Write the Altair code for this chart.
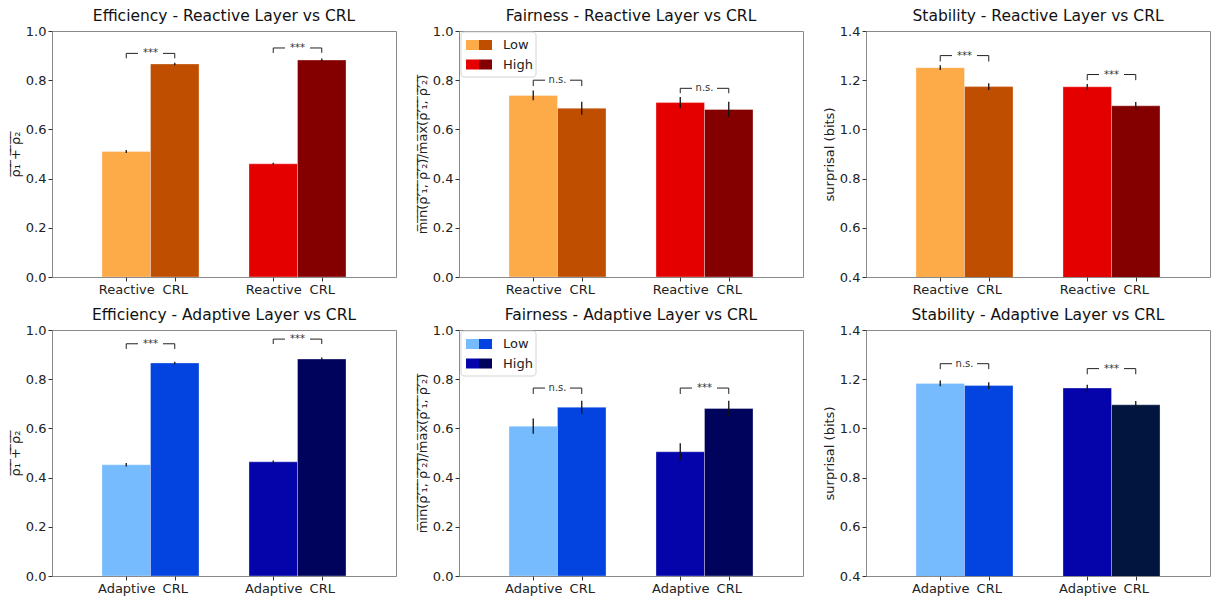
import altair as alt
import pandas as pd

conditions = ["Low", "High"]

# Efficiency (bar heights and error half-widths)
eff_reactive = [0.510, 0.460]
eff_reactive_err = [0.006, 0.004]
eff_adaptive = [0.452, 0.464]
eff_adaptive_err = [0.007, 0.006]
eff_crl = [0.866, 0.882]
eff_crl_err = [0.005, 0.006]

# Fairness
fair_reactive = [0.738, 0.709]
fair_reactive_err = [0.020, 0.023]
fair_adaptive = [0.609, 0.505]
fair_adaptive_err = [0.031, 0.035]
fair_crl = [0.686, 0.681]
fair_crl_err = [0.026, 0.031]

# Stability
stab_reactive = [1.251, 1.173]
stab_reactive_err = [0.010, 0.012]
stab_adaptive = [1.183, 1.164]
stab_adaptive_err = [0.012, 0.013]
stab_crl = [1.174, 1.096]
stab_crl_err = [0.014, 0.015]

# Significance brackets: bottom / top level and label, per condition
eff_reactive_br_lo = [0.889, 0.911]
eff_reactive_br_hi = [0.909, 0.931]
eff_reactive_sig = ["***", "***"]
eff_adaptive_br_lo = [0.923, 0.943]
eff_adaptive_br_hi = [0.944, 0.963]
eff_adaptive_sig = ["***", "***"]
fair_reactive_br_lo = [0.776, 0.747]
fair_reactive_br_hi = [0.800, 0.767]
fair_reactive_sig = ["n.s.", "n.s."]
fair_adaptive_br_lo = [0.740, 0.740]
fair_adaptive_br_hi = [0.764, 0.764]
fair_adaptive_sig = ["n.s.", "***"]
stab_reactive_br_lo = [1.276, 1.200]
stab_reactive_br_hi = [1.300, 1.223]
stab_reactive_sig = ["***", "***"]
stab_adaptive_br_lo = [1.241, 1.220]
stab_adaptive_br_hi = [1.263, 1.243]
stab_adaptive_sig = ["n.s.", "***"]

# Colours: [layer, CRL] per condition
reactive_colors = [["#fdaa48", "#c04e01"], ["#e50000", "#840000"]]
adaptive_colors = [["#75bbfd", "#0343df"], ["#0504aa", "#00035b"]]
adaptive_colors_stab = [["#75bbfd", "#0343df"], ["#0504aa", "#01153e"]]

eff_yticks = [0.0, 0.2, 0.4, 0.6, 0.8, 1.0]
stab_yticks = [0.4, 0.6, 0.8, 1.0, 1.2, 1.4]


def overline(s):
    return "".join(ch + "\u0305" for ch in s)


eff_title = overline("ρ₁ + ρ₂")
fair_title = overline("min(ρ′₁, ρ′₂)/max(ρ′₁, ρ′₂)")
stab_title = "surprisal (bits)"

FONT = "DejaVu Sans"
W = 0.33
GAP = 0.085
PW, PH = 344, 246


def legend_layers(colors):
    one = alt.Data(values=[{}])
    layers = [
        alt.Chart(one).mark_rect(fill="white", stroke="#d0d0d0", strokeWidth=1,
                                 cornerRadius=3, opacity=0.9).encode(
            x=alt.value(2), x2=alt.value(77), y=alt.value(1), y2=alt.value(46))
    ]
    for k, name in enumerate(conditions):
        y0 = 9 + k * 19.5
        layers.append(alt.Chart(one).mark_rect(fill=colors[k][0]).encode(
            x=alt.value(7), x2=alt.value(20), y=alt.value(y0), y2=alt.value(y0 + 10)))
        layers.append(alt.Chart(one).mark_rect(fill=colors[k][1]).encode(
            x=alt.value(20), x2=alt.value(33), y=alt.value(y0), y2=alt.value(y0 + 10)))
        layers.append(alt.Chart(one).mark_text(text=name, align="left", baseline="middle",
                                               fontSize=13, font=FONT, color="#222").encode(
            x=alt.value(44), y=alt.value(y0 + 5)))
    return layers


def panel(title, base_name, base_vals, base_err, crl_vals, crl_err, colors,
          sig, br_lo, br_hi, ydom, yvals, ytitle, legend=False):
    rows = []
    for i, c in enumerate(conditions):
        items = [(base_name, base_vals[i], base_err[i]), ("CRL", crl_vals[i], crl_err[i])]
        for j, (name, v, e) in enumerate(items):
            x0 = i - W + j * W
            rows.append(dict(cond=c, method=name, x0=x0, x1=x0 + W, xc=x0 + W / 2,
                             value=v, lo=v - e, hi=v + e, color=colors[i][j]))
    df = pd.DataFrame(rows)

    segs, labels = [], []
    for i in range(len(conditions)):
        cl, cr, m = i - W / 2, i + W / 2, i
        lo, hi = br_lo[i], br_hi[i]
        segs += [dict(a=cl, b=cl, y0=lo, y1=hi), dict(a=cr, b=cr, y0=lo, y1=hi),
                 dict(a=cl, b=m - GAP, y0=hi, y1=hi), dict(a=m + GAP, b=cr, y0=hi, y1=hi)]
        labels.append(dict(m=m, y=hi, t=sig[i]))
    seg_df = pd.DataFrame(segs)
    lab_df = pd.DataFrame(labels)

    xs = alt.Scale(domain=[-0.67, 1.67], nice=False, zero=False)
    ys = alt.Scale(domain=ydom, nice=False, zero=False)
    centers = [-W / 2, W / 2, 1 - W / 2, 1 + W / 2]
    xaxis = alt.Axis(values=centers, title=None, grid=False, tickSize=4,
                     labelExpr=f"(datum.value < 0 || (datum.value > 0.5 && datum.value < 1)) ? '{base_name}' : 'CRL'")
    yaxis = alt.Axis(values=yvals, format=".1f", title=ytitle, grid=False, tickSize=4)

    bars = alt.Chart(df).mark_bar(clip=True, stroke="white", strokeWidth=0.8,
                                  strokeOpacity=0.4).encode(
        x=alt.X("x0:Q", scale=xs, axis=xaxis), x2="x1:Q",
        y=alt.Y("value:Q", scale=ys, axis=yaxis), y2=alt.datum(0),
        color=alt.Color("color:N", scale=None))
    errs = alt.Chart(df).mark_rule(color="#111", strokeWidth=1.3).encode(
        x=alt.X("xc:Q", scale=xs, axis=xaxis),
        y=alt.Y("lo:Q", scale=ys, axis=yaxis), y2="hi:Q")
    brs = alt.Chart(seg_df).mark_rule(color="#222", strokeWidth=1).encode(
        x=alt.X("a:Q", scale=xs, axis=xaxis), x2="b:Q",
        y=alt.Y("y0:Q", scale=ys, axis=yaxis), y2="y1:Q")
    txt = alt.Chart(lab_df).mark_text(fontSize=10, font=FONT, color="#333",
                                      baseline="middle").encode(
        x=alt.X("m:Q", scale=xs, axis=xaxis),
        y=alt.Y("y:Q", scale=ys, axis=yaxis), text="t:N")

    layers = [bars, errs, brs, txt]
    if legend:
        layers += legend_layers(colors)
    return alt.layer(*layers).properties(
        width=PW, height=PH,
        title=alt.TitleParams(title, fontSize=15.5, fontWeight="normal", font=FONT,
                              color="#111", offset=1))


p1 = panel("Efficiency - Reactive Layer vs CRL", "Reactive", eff_reactive, eff_reactive_err,
           eff_crl, eff_crl_err, reactive_colors, eff_reactive_sig, eff_reactive_br_lo,
           eff_reactive_br_hi, [0, 1], eff_yticks, eff_title)
p2 = panel("Fairness - Reactive Layer vs CRL", "Reactive", fair_reactive, fair_reactive_err,
           fair_crl, fair_crl_err, reactive_colors, fair_reactive_sig, fair_reactive_br_lo,
           fair_reactive_br_hi, [0, 1], eff_yticks, fair_title, legend=True)
p3 = panel("Stability - Reactive Layer vs CRL", "Reactive", stab_reactive, stab_reactive_err,
           stab_crl, stab_crl_err, reactive_colors, stab_reactive_sig, stab_reactive_br_lo,
           stab_reactive_br_hi, [0.4, 1.4], stab_yticks, stab_title)
p4 = panel("Efficiency - Adaptive Layer vs CRL", "Adaptive", eff_adaptive, eff_adaptive_err,
           eff_crl, eff_crl_err, adaptive_colors, eff_adaptive_sig, eff_adaptive_br_lo,
           eff_adaptive_br_hi, [0, 1], eff_yticks, eff_title)
p5 = panel("Fairness - Adaptive Layer vs CRL", "Adaptive", fair_adaptive, fair_adaptive_err,
           fair_crl, fair_crl_err, adaptive_colors, fair_adaptive_sig, fair_adaptive_br_lo,
           fair_adaptive_br_hi, [0, 1], eff_yticks, fair_title, legend=True)
p6 = panel("Stability - Adaptive Layer vs CRL", "Adaptive", stab_adaptive, stab_adaptive_err,
           stab_crl, stab_crl_err, adaptive_colors_stab, stab_adaptive_sig, stab_adaptive_br_lo,
           stab_adaptive_br_hi, [0.4, 1.4], stab_yticks, stab_title)

chart = alt.vconcat(
    alt.hconcat(p1, p2, p3, spacing=18),
    alt.hconcat(p4, p5, p6, spacing=18),
    spacing=10,
).properties(
    padding={"left": 0, "top": 0, "right": 0, "bottom": 0}
).configure_view(
    stroke="#8a8a8a", strokeWidth=1
).configure_axis(
    domain=False, labelFont=FONT, labelFontSize=13, labelColor="#222",
    tickColor="#333", labelPadding=2, titleFont=FONT, titleFontSize=13,
    titleFontWeight="normal", titleColor="#222", titlePadding=3
).configure_title(
    font=FONT
)

chart.save("out.html", embed_options={"renderer": "svg", "actions": False})
